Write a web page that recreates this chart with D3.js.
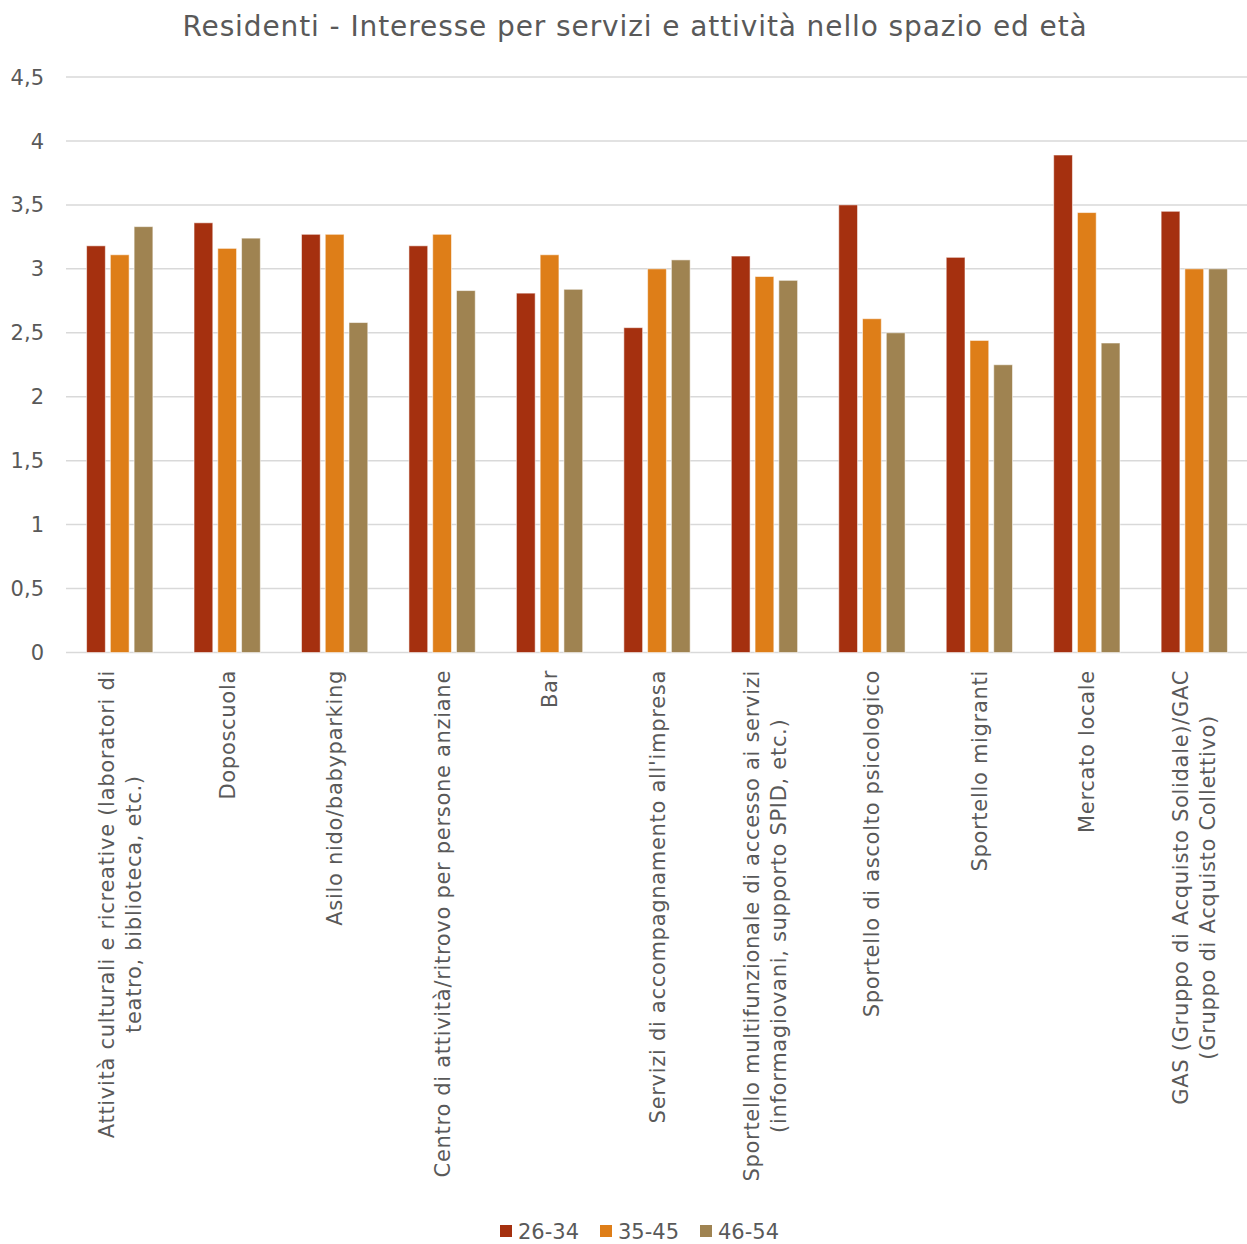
<!DOCTYPE html>
<html>
<head>
<meta charset="utf-8">
<script src="https://cdn.jsdelivr.net/npm/d3@7"></script>
<style>
  body { margin: 0; background: #fff; }
  text { font-family: "DejaVu Sans", sans-serif; fill: #595959; }
</style>
</head>
<body>
<svg id="chart"></svg>
<script>
const title = "Residenti - Interesse per servizi e attività nello spazio ed età"

// category labels, one entry per line
const categories = [
  ["Attività culturali e ricreative (laboratori di", "teatro, biblioteca, etc.)"],
  ["Doposcuola"],
  ["Asilo nido/babyparking"],
  ["Centro di attività/ritrovo per persone anziane"],
  ["Bar"],
  ["Servizi di accompagnamento all'impresa"],
  ["Sportello multifunzionale di accesso ai servizi", "(informagiovani, supporto SPID, etc.)"],
  ["Sportello di ascolto psicologico"],
  ["Sportello migranti"],
  ["Mercato locale"],
  ["GAS (Gruppo di Acquisto Solidale)/GAC", "(Gruppo di Acquisto Collettivo)"]
]

const seriesNames = ["26-34", "35-45", "46-54"]
const colors = ["#A5300F", "#DE7E18", "#9F8351"]

const values2634 = [3.18, 3.36, 3.27, 3.18, 2.81, 2.54, 3.10, 3.50, 3.09, 3.89, 3.45]
const values3545 = [3.11, 3.16, 3.27, 3.27, 3.11, 3.00, 2.94, 2.61, 2.44, 3.44, 3.00]
const values4654 = [3.33, 3.24, 2.58, 2.83, 2.84, 3.07, 2.91, 2.50, 2.25, 2.42, 3.00]

const yTicks = [0, 0.5, 1, 1.5, 2, 2.5, 3, 3.5, 4, 4.5]

const width = 1247
const height = 1244
const margin = { top: 77, right: 0, bottom: 591, left: 66 }

const svg = d3.select("#chart")
  .attr("width", width)
  .attr("height", height)

const seriesValues = [values2634, values3545, values4654]
const catIndex = categories.map((c, i) => i)

const x0 = d3.scaleBand()
  .domain(catIndex)
  .range([margin.left, width + 1])
  .paddingInner(0.383)
  .paddingOuter(0.1915)

const x1 = d3.scaleBand()
  .domain(seriesNames)
  .range([0, x0.bandwidth()])
  .paddingInner(0.21)

const y = d3.scaleLinear()
  .domain([0, 4.5])
  .range([height - margin.bottom - 0.5, margin.top])

const fmt = d3.formatLocale({ decimal: ",", thousands: ".", grouping: [3], currency: ["€", ""] }).format("~g")

// gridlines
svg.append("g")
  .selectAll("line")
  .data(yTicks)
  .join("line")
  .attr("x1", margin.left)
  .attr("x2", width)
  .attr("y1", d => y(d))
  .attr("y2", d => y(d))
  .attr("stroke", "#d9d9d9")
  .attr("stroke-width", 1.5)

// y tick labels
svg.append("g")
  .selectAll("text")
  .data(yTicks)
  .join("text")
  .attr("x", 44)
  .attr("y", d => y(d))
  .attr("dy", "0.36em")
  .attr("text-anchor", "end")
  .attr("font-size", 21)
  .text(d => fmt(d))

// bars
const groups = svg.append("g")
  .selectAll("g")
  .data(catIndex)
  .join("g")
  .attr("transform", i => `translate(${x0(i)},0)`)

groups.selectAll("rect")
  .data(i => seriesNames.map((s, k) => ({ s, k, v: seriesValues[k][i] })))
  .join("rect")
  .attr("x", d => x1(d.s))
  .attr("width", x1.bandwidth())
  .attr("y", d => y(d.v))
  .attr("height", d => y(0) - y(d.v))
  .attr("fill", d => colors[d.k])
  .attr("stroke", "#fff")
  .attr("stroke-opacity", 0.55)
  .attr("stroke-width", 1)

// category labels (rotated, lines centred on the longest one)
const labelTop = 670
const lineGap = 27
const labels = svg.append("g")
  .selectAll("g")
  .data(catIndex)
  .join("g")
  .attr("transform", i => `translate(${x0(i) + x0.bandwidth() / 2},${labelTop}) rotate(-90)`)

labels.each(function(i) {
  const g = d3.select(this)
  const lines = categories[i]
  const texts = lines.map((line, j) => g.append("text")
    .attr("font-size", 21)
    .attr("letter-spacing", 0.7)
    .attr("text-anchor", "middle")
    .attr("y", (j - (lines.length - 1) / 2) * lineGap)
    .attr("dy", "0.36em")
    .text(line))
  const maxW = d3.max(texts, t => t.node().getComputedTextLength())
  texts.forEach(t => t.attr("x", -maxW / 2))
})

// title
svg.append("text")
  .attr("x", 635)
  .attr("y", 36)
  .attr("text-anchor", "middle")
  .attr("font-size", 28)
  .attr("letter-spacing", 0.9)
  .text(title)

// legend
const legend = svg.append("g")
  .selectAll("g")
  .data(seriesNames)
  .join("g")
  .attr("transform", (d, i) => `translate(${500 + i * 100},1231)`)

legend.append("rect")
  .attr("x", 0)
  .attr("y", -6)
  .attr("width", 12)
  .attr("height", 12)
  .attr("fill", (d, i) => colors[i])

legend.append("text")
  .attr("x", 18)
  .attr("dy", "0.36em")
  .attr("font-size", 21)
  .text(d => d)
</script>
</body>
</html>
